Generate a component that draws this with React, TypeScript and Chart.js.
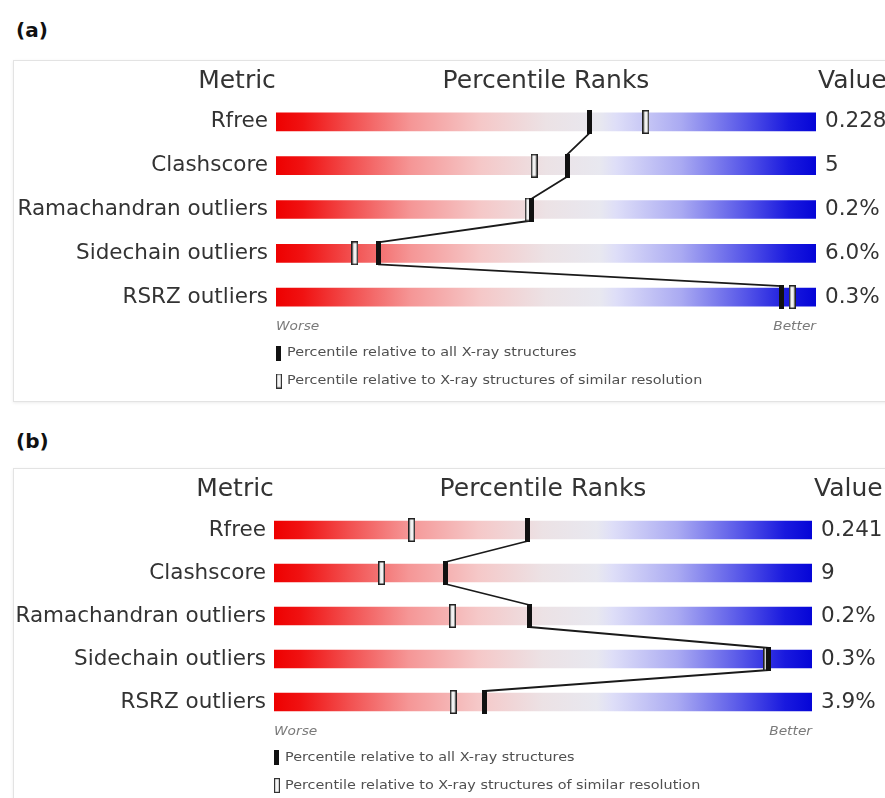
import React, { useEffect, useRef } from "react";
import { Chart, registerables } from "chart.js";

Chart.register(...registerables);

// Metrics shown on every slider row
const metrics = [
  "Rfree",
  "Clashscore",
  "Ramachandran outliers",
  "Sidechain outliers",
  "RSRZ outliers",
];

// Panel (a)
const valuesA = ["0.228", "5", "0.2%", "6.0%", "0.3%"];
const allXrayA = [58.1, 53.9, 47.4, 18.9, 93.7];
const similarResA = [68.5, 47.8, 46.7, 14.6, 95.6];

// Panel (b)
const valuesB = ["0.241", "9", "0.2%", "0.3%", "3.9%"];
const allXrayB = [47.2, 31.9, 47.5, 92.0, 39.2];
const similarResB = [25.6, 20.0, 33.2, 91.6, 33.3];

const headerMetric = "Metric";
const headerRanks = "Percentile Ranks";
const headerValue = "Value";
const worseText = "Worse";
const betterText = "Better";
const legendAll = "Percentile relative to all X-ray structures";
const legendSimilar = "Percentile relative to X-ray structures of similar resolution";

const FONT = "'DejaVu Sans', Verdana, sans-serif";

// red -> pale -> blue slider colouring
const sliderStops: [number, string][] = [
  [0, "rgb(238,0,0)"],
  [0.05, "rgb(240,18,18)"],
  [0.14, "rgb(242,80,80)"],
  [0.25, "rgb(245,150,150)"],
  [0.38, "rgb(245,200,200)"],
  [0.5, "rgb(236,226,229)"],
  [0.6, "rgb(232,232,240)"],
  [0.63, "rgb(222,222,248)"],
  [0.75, "rgb(170,170,242)"],
  [0.87, "rgb(85,85,232)"],
  [0.95, "rgb(25,25,222)"],
  [1, "rgb(5,5,215)"],
];

function makeMarker(hollow: boolean): HTMLCanvasElement {
  const c = document.createElement("canvas");
  const w = hollow ? 7 : 5;
  const h = 24;
  c.width = w;
  c.height = h;
  const g = c.getContext("2d")!;
  if (hollow) {
    g.fillStyle = "#f2f2f2";
    g.fillRect(0, 0, w, h);
    g.strokeStyle = "#222";
    g.lineWidth = 1.5;
    g.strokeRect(0.75, 0.75, w - 1.5, h - 1.5);
  } else {
    g.fillStyle = "#111";
    g.fillRect(0, 0, w, h);
  }
  return c;
}

function makeLegendMarker(hollow: boolean): HTMLCanvasElement {
  const c = document.createElement("canvas");
  const w = hollow ? 6 : 5;
  const h = 15;
  c.width = w;
  c.height = h;
  const g = c.getContext("2d")!;
  if (hollow) {
    g.fillStyle = "#f4f4f4";
    g.fillRect(0, 0, w, h);
    g.strokeStyle = "#333";
    g.lineWidth = 1.2;
    g.strokeRect(0.6, 0.6, w - 1.2, h - 1.2);
  } else {
    g.fillStyle = "#111";
    g.fillRect(0, 0, w, h);
  }
  return c;
}

// small text is set slightly wide
function wideText(ctx: CanvasRenderingContext2D, text: string, x: number, y: number, sx: number) {
  ctx.save();
  ctx.translate(x, y);
  ctx.scale(sx, 1);
  ctx.fillText(text, 0, 0);
  ctx.restore();
}

type PanelSpec = {
  top: number;
  height: number;
  padTop: number;
  padBottom: number;
  leftWidth: number;
  rightWidth: number;
};

const decorPlugin = {
  id: "sliderDecor",
  afterDatasetDraw(chart: any, args: any) {
    if (args.index !== 0) return;
    // join the "all structures" markers: bottom of one to top of the next
    const meta = chart.getDatasetMeta(2);
    const pts = meta.data;
    const half = 11;
    const ctx = chart.ctx;
    ctx.save();
    ctx.strokeStyle = "#1a1a1a";
    ctx.lineWidth = 1.8;
    ctx.beginPath();
    for (let i = 0; i < pts.length - 1; i++) {
      ctx.moveTo(pts[i].x, pts[i].y + half);
      ctx.lineTo(pts[i + 1].x, pts[i + 1].y - half);
    }
    ctx.stroke();
    ctx.restore();
  },
  afterDraw(chart: any) {
    const { ctx, chartArea } = chart;
    const { left, right, top, bottom } = chartArea;
    ctx.save();
    ctx.fillStyle = "#333";
    ctx.textBaseline = "middle";
    ctx.font = `25px ${FONT}`;
    ctx.textAlign = "center";
    ctx.fillText(headerMetric, left - 39, top - 19);
    ctx.fillText(headerRanks, (left + right) / 2, top - 19);
    ctx.textAlign = "left";
    ctx.fillText(headerValue, right + 2, top - 19);

    ctx.font = `italic 12.5px ${FONT}`;
    ctx.fillStyle = "#7a7a7a";
    ctx.textAlign = "left";
    wideText(ctx, worseText, left, bottom + 8, 1.1);
    ctx.textAlign = "right";
    wideText(ctx, betterText, right, bottom + 8, 1.1);

    ctx.font = `12.5px ${FONT}`;
    ctx.fillStyle = "#505050";
    ctx.textAlign = "left";
    const solid = makeLegendMarker(false);
    const hollow = makeLegendMarker(true);
    const y1 = bottom + 34;
    const y2 = bottom + 62;
    ctx.drawImage(solid, left, y1 - 7.5);
    wideText(ctx, legendAll, left + 11, y1, 1.15);
    ctx.drawImage(hollow, left, y2 - 7.5);
    wideText(ctx, legendSimilar, left + 11, y2, 1.15);
    ctx.restore();
  },
};

function SliderPanel(props: {
  spec: PanelSpec;
  values: string[];
  allXray: number[];
  similarRes: number[];
}) {
  const { spec, values, allXray, similarRes } = props;
  const ref = useRef<HTMLCanvasElement>(null);

  useEffect(() => {
    const canvas = ref.current!;
    const solidMarker = makeMarker(false);
    const hollowMarker = makeMarker(true);

    const chart = new Chart(canvas, {
      type: "bar",
      data: {
        labels: metrics,
        datasets: [
          {
            type: "bar",
            data: metrics.map(() => 100),
            indexAxis: "y",
            xAxisID: "x",
            yAxisID: "y",
            barThickness: 18,
            borderWidth: 0,
            order: 3,
            backgroundColor: (c: any) => {
              const area = c.chart.chartArea;
              if (!area) return "#ccc";
              const g = c.chart.ctx.createLinearGradient(area.left, 0, area.right, 0);
              sliderStops.forEach(([o, col]) => g.addColorStop(o, col));
              return g;
            },
          } as any,
          {
            type: "line",
            data: similarRes,
            indexAxis: "y",
            xAxisID: "x",
            yAxisID: "y",
            showLine: false,
            pointStyle: hollowMarker,
            pointRadius: 4,
            order: 2,
          } as any,
          {
            type: "line",
            data: allXray,
            indexAxis: "y",
            xAxisID: "x",
            yAxisID: "y",
            showLine: false,
            pointStyle: solidMarker,
            pointRadius: 4,
            order: 1,
          } as any,
        ],
      },
      options: {
        indexAxis: "y",
        responsive: false,
        animation: false,
        devicePixelRatio: 1,
        events: [],
        layout: {
          padding: { top: spec.padTop, bottom: spec.padBottom, left: 0, right: 0 },
        },
        plugins: { legend: { display: false }, tooltip: { enabled: false } },
        scales: {
          x: { type: "linear", min: 0, max: 100, display: false },
          y: {
            type: "category",
            position: "left",
            offset: true,
            grid: { display: false, drawTicks: false },
            border: { display: false },
            ticks: {
              autoSkip: false,
              padding: 8,
              color: "#333",
              font: { family: FONT, size: 21.5 },
            },
            afterFit: (s: any) => {
              s.width = spec.leftWidth;
            },
          },
          yv: {
            type: "category",
            position: "right",
            labels: values,
            offset: true,
            grid: { display: false, drawTicks: false },
            border: { display: false },
            ticks: {
              autoSkip: false,
              padding: 9,
              color: "#333",
              font: { family: FONT, size: 21.5 },
            },
            afterFit: (s: any) => {
              s.width = spec.rightWidth;
            },
          },
        },
      } as any,
      plugins: [decorPlugin],
    });
    return () => chart.destroy();
  }, []);

  return (
    <canvas
      ref={ref}
      width={885}
      height={spec.height}
      style={{ position: "absolute", left: 0, top: spec.top, width: 885, height: spec.height }}
    />
  );
}

const specA: PanelSpec = { top: 60, height: 340, padTop: 40, padBottom: 81, leftWidth: 276, rightWidth: 69 };
const specB: PanelSpec = { top: 468, height: 330, padTop: 40.5, padBottom: 74.5, leftWidth: 274, rightWidth: 73 };

const boxStyle = (top: number, height: number): React.CSSProperties => ({
  position: "absolute",
  left: 13,
  top,
  width: 890,
  height,
  border: "1px solid #e3e3e3",
  boxShadow: "0 1px 3px rgba(0,0,0,0.08)",
  background: "#fff",
});

const titleStyle = (top: number): React.CSSProperties => ({
  position: "absolute",
  left: 16,
  top,
  fontFamily: FONT,
  fontWeight: "bold",
  fontSize: 20,
  lineHeight: "24px",
  color: "#111",
});

export default function App() {
  return (
    <div
      style={{
        position: "absolute",
        left: 0,
        top: 0,
        width: 885,
        height: 798,
        overflow: "hidden",
        background: "#fff",
      }}
    >
      <div style={titleStyle(18)}>(a)</div>
      <div style={boxStyle(60, 340)} />
      <SliderPanel spec={specA} values={valuesA} allXray={allXrayA} similarRes={similarResA} />
      <div style={titleStyle(429)}>(b)</div>
      <div style={boxStyle(468, 340)} />
      <SliderPanel spec={specB} values={valuesB} allXray={allXrayB} similarRes={similarResB} />
    </div>
  );
}
